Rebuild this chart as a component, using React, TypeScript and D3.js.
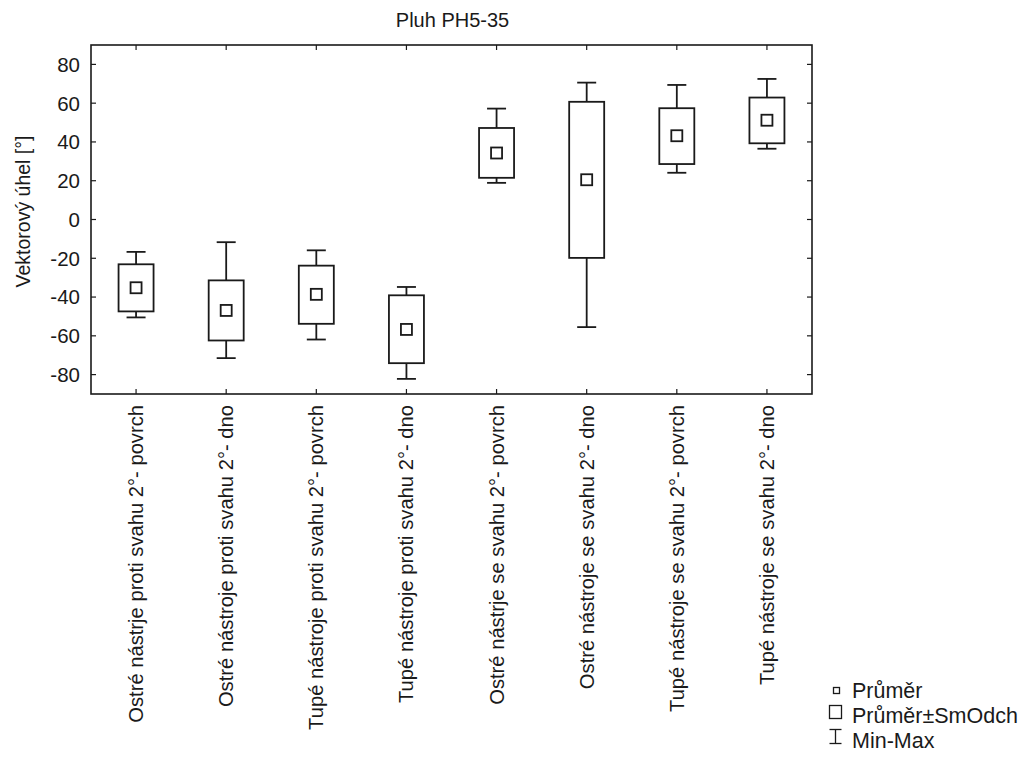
import React from "react";
import * as d3 from "d3";

const categories = [
  "Ostré nástrje proti svahu 2°- povrch",
  "Ostré nástroje proti svahu 2°- dno",
  "Tupé nástroje proti svahu 2°- povrch",
  "Tupé nástroje proti svahu 2°- dno",
  "Ostré nástrje se svahu 2°- povrch",
  "Ostré nástroje se svahu 2°- dno",
  "Tupé nástroje se svahu 2°- povrch",
  "Tupé nástroje se svahu 2°- dno",
];
const means = [-35.2, -46.9, -38.6, -56.7, 34.3, 20.5, 43.2, 51.2];
const sdLow = [-47.4, -62.4, -53.8, -74.1, 21.5, -19.8, 28.6, 39.3];
const sdHigh = [-23.1, -31.4, -23.8, -39.1, 47.2, 60.7, 57.4, 62.9];
const minVals = [-50.5, -71.5, -61.9, -82.2, 18.9, -55.5, 24.1, 36.5];
const maxVals = [-16.7, -11.7, -15.9, -34.8, 57.2, 70.6, 69.4, 72.5];
const yTicks = [-80, -60, -40, -20, 0, 20, 40, 60, 80];
const title = "Pluh PH5-35";
const yTitle = "Vektorový úhel [°]";
const legendLabels = ["Průměr", "Průměr±SmOdch", "Min-Max"];

const W = 1030, H = 758;
const L = 91, R = 812, T = 45, B = 394;
const FONT = "Liberation Sans, Arial, sans-serif";
const INK = "#1a1a1a";

export default function App() {
  const x = d3.scaleBand<string>().domain(categories).range([L, R]);
  const y = d3.scaleLinear().domain([-90, 90]).range([B, T]);
  const boxW = 35, capW = 19, mk = 11;
  return (
    <svg width={W} height={H} style={{ position: "absolute", left: 0, top: 0, background: "#fff" }}
      fontFamily={FONT}>
      <rect x={0} y={0} width={W} height={H} fill="#fff" />
      <text x={(L + R) / 2 + 1} y={27} fontSize={20} textAnchor="middle" fill={INK}>{title}</text>
      {/* frame */}
      <rect x={L} y={T} width={R - L} height={B - T} fill="none" stroke={INK} strokeWidth={1.6} />
      {/* y ticks */}
      {yTicks.map((t) => (
        <g key={t}>
          <line x1={L} x2={L + 5} y1={y(t)} y2={y(t)} stroke={INK} strokeWidth={1.2} />
          <line x1={R - 5} x2={R} y1={y(t)} y2={y(t)} stroke={INK} strokeWidth={1.2} />
          <text x={L - 11} y={y(t)} dy="0.36em" fontSize={20.5} textAnchor="end" fill={INK}>{t}</text>
        </g>
      ))}
      {/* x ticks */}
      {categories.map((c) => {
        const cx = x(c)! + x.bandwidth() / 2;
        return (
          <g key={"xt" + c}>
            <line x1={cx} x2={cx} y1={T} y2={T + 5} stroke={INK} strokeWidth={1.2} />
            <line x1={cx} x2={cx} y1={B - 5} y2={B} stroke={INK} strokeWidth={1.2} />
            <text transform={`translate(${cx + 7},${B + 11}) rotate(-90)`} fontSize={20.2}
              textAnchor="end" fill={INK}>{c}</text>
          </g>
        );
      })}
      <text transform={`translate(30,${(T + B) / 2 - 8}) rotate(-90)`} fontSize={19.5}
        textAnchor="middle" fill={INK}>{yTitle}</text>
      {/* boxes */}
      {categories.map((c, i) => {
        const cx = x(c)! + x.bandwidth() / 2;
        return (
          <g key={"b" + c} stroke={INK} strokeWidth={1.8} fill="#fff">
            <line x1={cx} x2={cx} y1={y(maxVals[i])} y2={y(sdHigh[i])} />
            <line x1={cx} x2={cx} y1={y(sdLow[i])} y2={y(minVals[i])} />
            <line x1={cx - capW / 2} x2={cx + capW / 2} y1={y(maxVals[i])} y2={y(maxVals[i])} />
            <line x1={cx - capW / 2} x2={cx + capW / 2} y1={y(minVals[i])} y2={y(minVals[i])} />
            <rect x={cx - boxW / 2} y={y(sdHigh[i])} width={boxW} height={y(sdLow[i]) - y(sdHigh[i])} />
            <rect x={cx - mk / 2} y={y(means[i]) - mk / 2} width={mk} height={mk} />
          </g>
        );
      })}
      {/* legend */}
      <g stroke={INK} strokeWidth={1.3} fill="#fff">
        <rect x={833.5} y={687.5} width={6} height={6} />
        <rect x={829.5} y={705.5} width={12} height={13} />
        <line x1={829.5} x2={841.5} y1={729.5} y2={729.5} />
        <line x1={829.5} x2={841.5} y1={743.5} y2={743.5} />
        <line x1={835.5} x2={835.5} y1={729.5} y2={743.5} />
      </g>
      {legendLabels.map((l, i) => (
        <text key={l} x={852} y={697.5 + i * 25} fontSize={21.5} fill={INK}>{l}</text>
      ))}
    </svg>
  );
}
